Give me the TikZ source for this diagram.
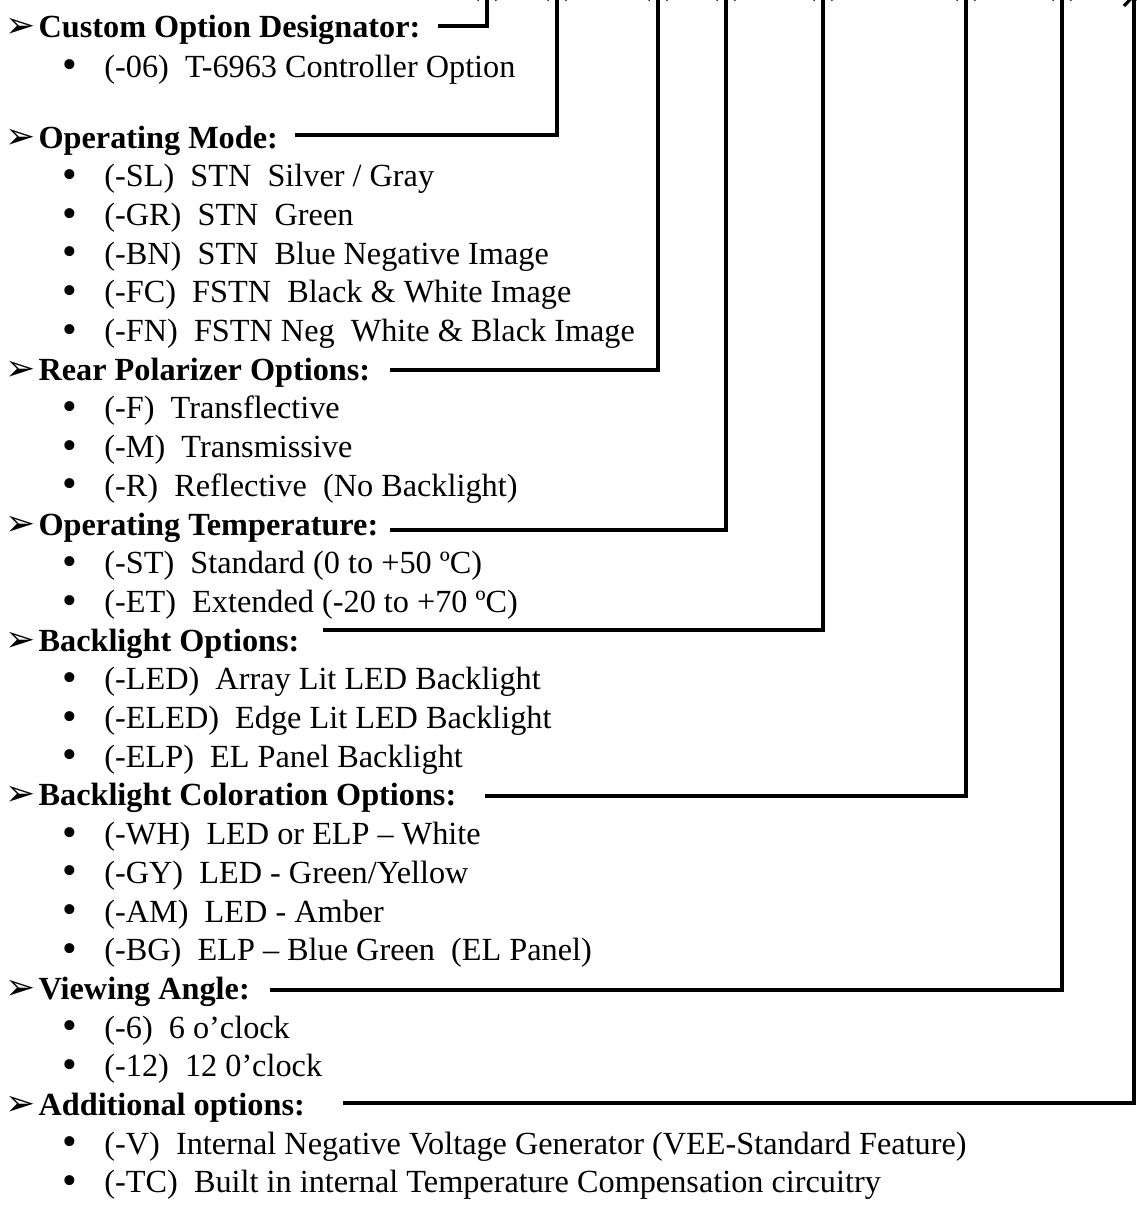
\documentclass[tikz,border=0pt]{standalone}
\usepackage{fontspec}
\usepackage{graphicx}
\setmainfont{Liberation Serif}
\newfontfamily\dingfont{DejaVu Sans}
\usetikzlibrary{arrows.meta}
\newcommand{\hmark}{\makebox[12.4pt][l]{\dingfont\fontsize{13.5}{14.4}\selectfont\char"27A2}}
\newcommand{\ibul}{\makebox[15.7pt][l]{\smash{\raisebox{-0.6pt}{\scalebox{1.3}{\textbullet}}}}}
\begin{document}
\begin{tikzpicture}[x=0.375pt,y=-0.375pt,
    font=\fontsize{12.1}{14.4}\selectfont,
    head/.style={anchor=base west,inner sep=0pt,font=\fontsize{12.1}{14.4}\selectfont\bfseries},
    item/.style={anchor=base west,inner sep=0pt},
    lead/.style={line width=1.2pt,-{Straight Barb[length=4pt,width=7.5pt]}}]
  \useasboundingbox (0,0) rectangle (1137,1205);
  \clip (0,0) rectangle (1137,1205);
  % headings: name/row/text
  \foreach \n/\k/\t in {om/0/{Operating Mode:},rpo/6/{Rear Polarizer Options:},
      ot/10/{Operating Temperature:},bl/13/{Backlight Options:},
      blc/17/{Backlight Coloration Options:},va/22/{Viewing Angle:},
      ao/25/{Additional options:}}{
    \node[head] (\n) at (5,148+38.7*\k) {\hmark\t};
  }
  \node[head] (cod) at (5,37) {\hmark Custom Option Designator:};
  % option rows
  \node[item] (i06) at (62,77) {\ibul(-06)\ \ T-6963 Controller Option};
  \foreach \n/\k/\t in {sl/1/{(-SL)\ \ STN\ \ Silver / Gray},gr/2/{(-GR)\ \ STN\ \ Green},
      bn/3/{(-BN)\ \ STN\ \ Blue Negative Image},fc/4/{(-FC)\ \ FSTN\ \ Black \& White Image},
      fn/5/{(-FN)\ \ FSTN Neg\ \ White \& Black Image},
      f/7/{(-F)\ \ Transflective},m/8/{(-M)\ \ Transmissive},r/9/{(-R)\ \ Reflective\ \ (No Backlight)},
      st/11/{(-ST)\ \ Standard (0 to +50 ºC)},et/12/{(-ET)\ \ Extended (-20 to +70 ºC)},
      led/14/{(-LED)\ \ Array Lit LED Backlight},eled/15/{(-ELED)\ \ Edge Lit LED Backlight},
      elp/16/{(-ELP)\ \ EL Panel Backlight},
      wh/18/{(-WH)\ \ LED or ELP – White},gy/19/{(-GY)\ \ LED - Green/Yellow},
      am/20/{(-AM)\ \ LED - Amber},bg/21/{(-BG)\ \ ELP – Blue Green\ \ (EL Panel)},
      six/23/{(-6)\ \ 6 o’clock},twelve/24/{(-12)\ \ 12 0’clock},
      v/26/{(-V)\ \ Internal Negative Voltage Generator (VEE-Standard Feature)},
      tc/27/{(-TC)\ \ Built in internal Temperature Compensation circuitry}}{
    \node[item] (i\n) at (62,148+38.7*\k) {\ibul\t};
  }
  % leader lines up to the part number
  \foreach \n/\sx/\ly/\cx/\ty in {cod/438/26/487/-13,om/295/135/557/-13,rpo/390/370/658/-13,
      ot/390/530/726/-13,bl/323/630/823/-13,blc/485/796/966/-13,va/270/990/1062/-13,
      ao/343/1103/1134/-7}{
    \coordinate (\n-s) at (\sx,\ly);
    \coordinate (\n-t) at (\cx,\ty);
    \draw[lead] (\n-s) -| (\n-t);
  }
\end{tikzpicture}
\end{document}
